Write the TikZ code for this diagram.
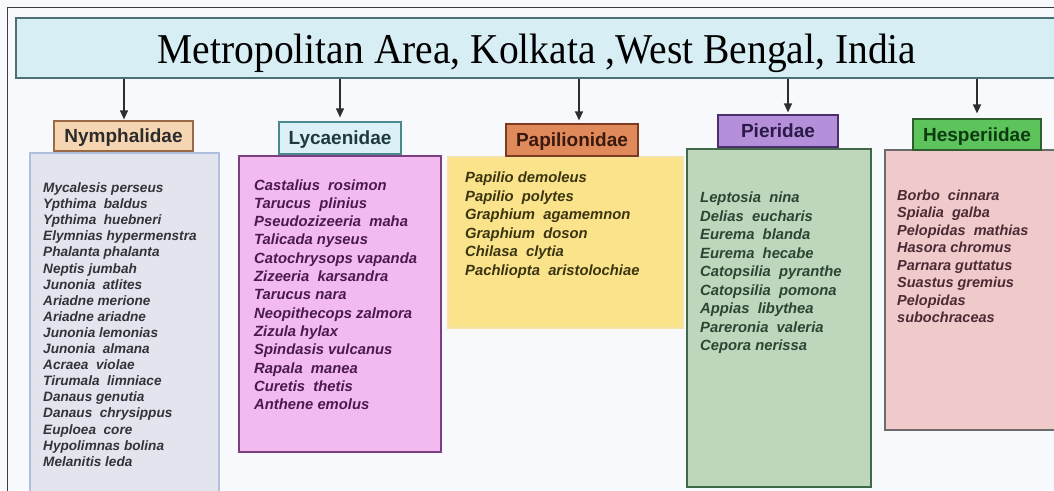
\documentclass[tikz,border=0pt]{standalone}
\usepackage{fontspec}
\setmainfont{Liberation Serif}
\newfontfamily\sansf{Liberation Sans}
\usetikzlibrary{arrows.meta}
\definecolor{bg}{HTML}{F8F9FC}
\definecolor{framec}{HTML}{3C3C3C}
\definecolor{tfill}{HTML}{D8EEF5}
\definecolor{tborder}{HTML}{4E6E78}
\definecolor{arrowc}{HTML}{2E2E2E}
\definecolor{nhfill}{HTML}{F6D6B2}\definecolor{nhdraw}{HTML}{9A6A45}\definecolor{nhtext}{HTML}{2B2B2B}
\definecolor{lhfill}{HTML}{DBF1F7}\definecolor{lhdraw}{HTML}{4A8A8F}\definecolor{lhtext}{HTML}{1E3A40}
\definecolor{phfill}{HTML}{E08A5C}\definecolor{phdraw}{HTML}{7A3B1E}\definecolor{phtext}{HTML}{3A1A0E}
\definecolor{qhfill}{HTML}{B58FDA}\definecolor{qhdraw}{HTML}{4B2E6B}\definecolor{qhtext}{HTML}{2A1A45}
\definecolor{hhfill}{HTML}{5DC35B}\definecolor{hhdraw}{HTML}{2E5E2E}\definecolor{hhtext}{HTML}{0E3A12}
\definecolor{nlfill}{HTML}{E2E4EE}\definecolor{nldraw}{HTML}{AFC0DD}\definecolor{nltext}{HTML}{333338}
\definecolor{llfill}{HTML}{F3BAF1}\definecolor{lldraw}{HTML}{7B3E7E}\definecolor{lltext}{HTML}{4A1A4C}
\definecolor{plfill}{HTML}{FBE38B}\definecolor{pldraw}{HTML}{F5E4A5}\definecolor{pltext}{HTML}{3A3510}
\definecolor{qlfill}{HTML}{BDD6BC}\definecolor{qldraw}{HTML}{42684A}\definecolor{qltext}{HTML}{2B4533}
\definecolor{hlfill}{HTML}{F0C9CA}\definecolor{hldraw}{HTML}{6B6B6B}\definecolor{hltext}{HTML}{4A2A33}
\begin{document}
\begin{tikzpicture}[x=1pt,y=-1pt,
  titlebox/.style={draw=tborder,fill=tfill,line width=1.2pt,minimum width=1042pt,minimum height=60pt,inner sep=0pt},
  famhead/.style={line width=1.2pt,inner sep=0pt,font=\sansf\bfseries\fontsize{19}{22}\selectfont,text height=13.6pt,text depth=0pt},
  listbox/.style={line width=1.4pt,inner sep=0pt},
  sp/.style={anchor=base west,inner sep=0pt,font=\sansf\bfseries\itshape\fontsize{14.8}{17}\selectfont},
  conn/.style={-{Triangle[length=9pt,width=8pt]},line width=1.3pt,draw=arrowc}
]
\useasboundingbox (0,0) rectangle (1054,490);
\fill[bg] (0,0) rectangle (1054,490);
\draw[framec,line width=1pt] (7,495) -- (7,7) -- (1060,7);

% title
\node[titlebox] (title) at (537,48) {};
\node[anchor=base,inner sep=0pt,xscale=0.93,font=\fontsize{42.5}{46}\selectfont] (ttl) at (537,63) {Metropolitan Area, Kolkata ,West Bengal, India};

% list boxes
\node[listbox,draw=nldraw,fill=nlfill,minimum width=189pt,minimum height=347pt] (nl) at (124.5,326.5) {};
\node[listbox,draw=lldraw,fill=llfill,minimum width=202pt,minimum height=296pt] (ll) at (340,304) {};
\node[listbox,draw=pldraw,fill=plfill,minimum width=235pt,minimum height=171pt] (pl) at (565.5,242.5) {};
\node[listbox,draw=qldraw,fill=qlfill,minimum width=184pt,minimum height=338pt] (ql) at (779,318) {};
\node[listbox,draw=hldraw,fill=hlfill,minimum width=180pt,minimum height=280pt] (hl) at (975,290) {};

% headers
\node[famhead,draw=nhdraw,fill=nhfill,text=nhtext,minimum width=139pt,minimum height=30pt] (nh) at (123.5,136) {Nymphalidae};
\node[famhead,draw=lhdraw,fill=lhfill,text=lhtext,minimum width=122pt,minimum height=32pt] (lh) at (340,138) {Lycaenidae};
\node[famhead,draw=phdraw,fill=phfill,text=phtext,minimum width=132pt,minimum height=32pt] (ph) at (572,140) {Papilionidae};
\node[famhead,draw=qhdraw,fill=qhfill,text=qhtext,minimum width=120pt,minimum height=32pt] (qh) at (778,131) {Pieridae};
\node[famhead,draw=hhdraw,fill=hhfill,text=hhtext,minimum width=128pt,minimum height=31pt] (hh) at (977,134.5) {Hesperiidae};

% arrows
\coordinate (an) at (124,0);
\coordinate (al) at (340,0);
\coordinate (ap) at (579,0);
\coordinate (aq) at (788,0);
\coordinate (ah) at (977,0);
\draw[conn,shorten >=1pt] (an |- title.south) -- (an |- nh.north);
\draw[conn,shorten >=4pt] (al |- title.south) -- (al |- lh.north);
\draw[conn,shorten >=3pt] (ap |- title.south) -- (ap |- ph.north);
\draw[conn,shorten >=2pt] (aq |- title.south) -- (aq |- qh.north);
\draw[conn,shorten >=5pt] (ah |- title.south) -- (ah |- hh.north);

% species
\foreach \t [count=\i from 0] in {Mycalesis perseus, Ypthima~ baldus, Ypthima~ huebneri, Elymnias hypermenstra, Phalanta phalanta, Neptis jumbah, Junonia~ atlites, Ariadne merione, Ariadne ariadne, Junonia lemonias, Junonia~ almana, Acraea~ violae, Tirumala~ limniace, Danaus genutia, Danaus~ chrysippus, Euploea~ core, Hypolimnas bolina, Melanitis leda}
  \node[sp,text=nltext,font=\sansf\bfseries\itshape\fontsize{13.6}{16}\selectfont] (n\i) at (43,192.5+\i*16.1) {\t};
\foreach \t [count=\i from 0] in {Castalius~ rosimon, Tarucus~ plinius, Pseudozizeeria~ maha, Talicada nyseus, Catochrysops vapanda, Zizeeria~ karsandra, Tarucus nara, Neopithecops zalmora, Zizula hylax, Spindasis vulcanus, Rapala~ manea, Curetis~ thetis, Anthene emolus}
  \node[sp,text=lltext] (l\i) at (254,190+\i*18.3) {\t};
\foreach \t [count=\i from 0] in {Papilio demoleus, Papilio~ polytes, Graphium~ agamemnon, Graphium~ doson, Chilasa~ clytia, Pachliopta~ aristolochiae}
  \node[sp,text=pltext] (p\i) at (465,182.5+\i*18.6) {\t};
\foreach \t [count=\i from 0] in {Leptosia~ nina, Delias~ eucharis, Eurema~ blanda, Eurema~ hecabe, Catopsilia~ pyranthe, Catopsilia~ pomona, Appias~ libythea, Pareronia~ valeria, Cepora nerissa}
  \node[sp,text=qltext] (q\i) at (700,202.5+\i*18.5) {\t};
\foreach \t [count=\i from 0] in {Borbo~ cinnara, Spialia~ galba, Pelopidas~ mathias, Hasora chromus, Parnara guttatus, Suastus gremius, Pelopidas, subochraceas}
  \node[sp,text=hltext,font=\sansf\bfseries\itshape\fontsize{14.5}{17}\selectfont] (h\i) at (897,200+\i*17.5) {\t};
\end{tikzpicture}
\end{document}
